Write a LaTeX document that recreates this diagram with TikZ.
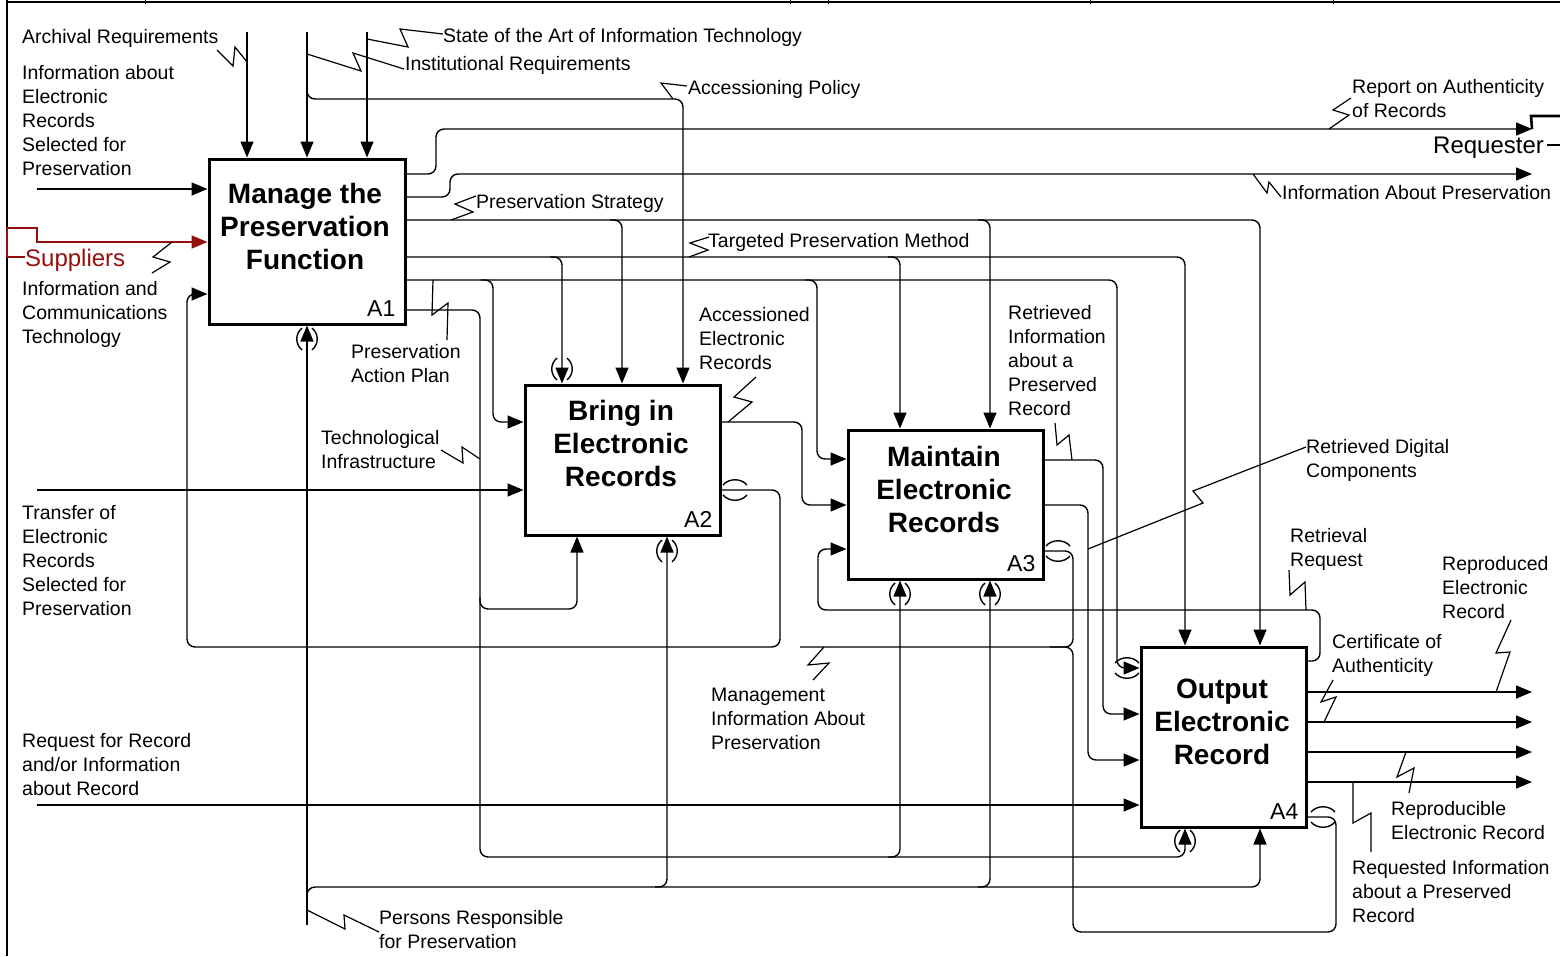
\documentclass[tikz,border=0pt]{standalone}
\usepackage{fontspec}
\setmainfont{Liberation Sans}
\usetikzlibrary{arrows.meta,calc}
\definecolor{supred}{RGB}{150,15,15}

% tunnel marks: parentheses round a vertical arrow end / arcs round a horizontal one
\newcommand{\tunV}[2]{%
  \draw[tun] (#1-5,#2-11) .. controls (#1-12,#2-5) and (#1-12,#2+5) .. (#1-5,#2+11);
  \draw[tun] (#1+5,#2-11) .. controls (#1+12,#2-5) and (#1+12,#2+5) .. (#1+5,#2+11);}
\newcommand{\tunH}[2]{%
  \draw[tun] (#1-12,#2-5) .. controls (#1-6,#2-12) and (#1+6,#2-12) .. (#1+12,#2-5);
  \draw[tun] (#1-12,#2+5) .. controls (#1-6,#2+12) and (#1+6,#2+12) .. (#1+12,#2+5);}

\begin{document}
\begin{tikzpicture}[x=1pt,y=-1pt,
  box/.style={draw,line width=3pt,inner sep=0pt},
  conn/.style={line width=1.4pt,rounded corners=8pt},
  tip/.style={-{Triangle[length=16pt,width=13pt]}},
  arr/.style={conn,tip},
  zig/.style={line width=1.2pt},
  tun/.style={line width=1.4pt},
  lbl/.style={font=\fontsize{19.5}{24}\selectfont,align=left,anchor=north west,inner sep=0pt},
  ttl/.style={font=\bfseries\fontsize{28}{33}\selectfont,align=center,anchor=north,inner sep=0pt},
  num/.style={font=\fontsize{23}{26}\selectfont,anchor=base east,inner sep=0pt},
  big/.style={font=\fontsize{24}{28}\selectfont,anchor=north west,inner sep=0pt},
]
\useasboundingbox (0,0) rectangle (1560,956);

% sheet frame
\draw[line width=1.3pt] (7,0) -- (7,956);
\draw[line width=2pt] (7,2) -- (1560,2);
\foreach \t in {145,790,828,1090,1333} \draw[line width=1pt] (\t,0) -- (\t,4);

% activity boxes
\node[box,minimum width=196pt,minimum height=165pt] (a1) at (307,241.5) {};
\node[box,minimum width=195pt,minimum height=150pt] (a2) at (622.5,460) {};
\node[box,minimum width=195pt,minimum height=149pt] (a3) at (945.5,504.5) {};
\node[box,minimum width=165pt,minimum height=180pt] (a4) at (1223.5,737) {};

\node[ttl] (t1) at (305,183) {Manage the\\Preservation\\Function};
\node[ttl] (t2) at (621,400) {Bring in\\Electronic\\Records};
\node[ttl] (t3) at (944,446) {Maintain\\Electronic\\Records};
\node[ttl] (t4) at (1222,679) {Output\\Electronic\\Record};

\node[num] (n1) at ($(a1.south east)+(-11,-9)$) {A1};
\node[num] (n2) at ($(a2.south east)+(-9,-9)$) {A2};
\node[num] (n3) at ($(a3.south east)+(-9,-9)$) {A3};
\node[num] (n4) at ($(a4.south east)+(-9,-9)$) {A4};

% free ends of boundary arrows
\coordinate (cArch) at (247,32);
\coordinate (cInst) at (307,32);
\coordinate (cArt) at (367,32);
\coordinate (iInfo) at (37,189);
\coordinate (iSup) at (25,257);
\coordinate (iTrans) at (37,490);
\coordinate (iReq) at (37,805);
\coordinate (mPers) at (307,925);
\coordinate (oRep) at (1532,129);
\coordinate (oInfo) at (1532,174);
\coordinate (oA) at (1532,692);
\coordinate (oB) at (1532,722);
\coordinate (oC) at (1532,752);
\coordinate (oD) at (1532,782);

% controls of A1
\draw[arr] (cArch) -- (cArch |- a1.north);
\draw[arr] (cInst) -- (cInst |- a1.north);
\draw[arr] (cArt) -- (cArt |- a1.north);
\draw[arr] (307,84) -- (307,99) -- (683,99) -- (683,0 |- a2.north);

% inputs
\draw[arr] (iInfo) -- (iInfo -| a1.west);
\draw[line width=1.6pt,draw=supred,tip]
  (iSup) -- (7,257) -- (7,228) -- (37,228) -- (37,242) -- (a1.west |- 0,242);
\draw[arr] (iTrans) -- (iTrans -| a2.west);
\draw[arr] (iReq) -- (iReq -| a4.west);

% mechanisms
\draw[arr] (mPers) -- (mPers |- a1.south);
\draw[arr] (307,906) -- (307,887) -- (1260,887) -- (1260,0 |- a4.south);
\draw[arr] (655,887) -- (667,887) -- (667,0 |- a2.south);
\draw[arr] (978,887) -- (990,887) -- (990,0 |- a3.south);

% outputs of A1
\draw[arr] (a1.east |- 0,174) -- (436,174) -- (436,129) -- (oRep);
\draw[arr] (a1.east |- 0,197) -- (450,197) -- (450,174) -- (oInfo);
\draw[arr] (a1.east |- 0,220) -- (1260,220) -- (1260,0 |- a4.north);
\draw[arr] (610,220) -- (622,220) -- (622,0 |- a2.north);
\draw[arr] (978,220) -- (990,220) -- (990,0 |- a3.north);
\draw[arr] (a1.east |- 0,257) -- (1185,257) -- (1185,0 |- a4.north);
\draw[arr] (550,257) -- (562,257) -- (562,0 |- a2.north);
\draw[arr] (888,257) -- (900,257) -- (900,0 |- a3.north);
\draw[arr] (a1.east |- 0,280) -- (1117,280) -- (1117,668) -- (a4.west |- 0,668);
\draw[arr] (481,280) -- (493,280) -- (493,422) -- (a2.west |- 0,422);
\draw[arr] (805,280) -- (817,280) -- (817,459) -- (a3.west |- 0,459);
\draw[arr] (a1.east |- 0,310) -- (480,310) -- (480,857) -- (1185,857) -- (1185,0 |- a4.south);
\draw[arr] (480,597) -- (480,609) -- (577,609) -- (577,0 |- a2.south);
\draw[arr] (888,857) -- (900,857) -- (900,0 |- a3.south);

% outputs of A2
\draw[arr] (a2.east |- 0,422) -- (802,422) -- (802,505) -- (a3.west |- 0,505);
\draw[arr] (a2.east |- 0,490) -- (780,490) -- (780,647) -- (187,647) -- (187,294) -- (a1.west |- 0,294);

% outputs of A3
\draw[arr] (a3.east |- 0,460) -- (1103,460) -- (1103,714) -- (a4.west |- 0,714);
\draw[arr] (a3.east |- 0,505) -- (1088,505) -- (1088,760) -- (a4.west |- 0,760);
\draw[conn] (a3.east |- 0,551) -- (1073,551) -- (1073,647) -- (800,647);

% outputs of A4
\draw[conn] (a4.east |- 0,817) -- (1336,817) -- (1336,932) -- (1073,932) -- (1073,647) -- (1050,647);
\draw[arr] (a4.east |- 0,661) -- (1320,661) -- (1320,610) -- (818,610) -- (818,549) -- (a3.west |- 0,549);
\draw[arr] (a4.east |- oA) -- (oA);
\draw[arr] (a4.east |- oB) -- (oB);
\draw[arr] (a4.east |- oC) -- (oC);
\draw[arr] (a4.east |- oD) -- (oD);

% tunnelled arrow ends
\tunV{307}{339}
\tunV{562}{369}
\tunV{667}{551}
\tunV{900}{594}
\tunV{990}{594}
\tunV{1185}{841}
\tunH{735}{490}
\tunH{1058}{551}
\tunH{1323}{817}
\tunH{1127}{668}

% requester mark
\node[big] (requester) at (1433,136.5) {Requester};
\draw[line width=2.6pt] (oRep) -- (1531,116) -- (1560,116);
\draw[line width=1.2pt] (requester.east |- 0,145) ++(3,0) -- (1560,145);

% label squiggles
\draw[zig] (217,50) -- (233,66) -- (235,47) -- (247,62);
\draw[zig] (307,54) -- (361,71) -- (353,53) -- (404,69);
\draw[zig] (367,39) -- (408,47) -- (400,29) -- (443,34);
\draw[zig] (673,99) -- (661,83) -- (687,86);
\draw[zig] (1329,129) -- (1349,115) -- (1333,110) -- (1351,98);
\draw[zig] (1253,174) -- (1267,193) -- (1269,182) -- (1281,197);
\draw[zig] (451,220) -- (473,212) -- (455,204) -- (476,196);
\draw[zig] (689,257) -- (708,250) -- (690,243) -- (709,237);
\draw[zig] (152,273) -- (170,262) -- (153,257) -- (172,242);
\draw[zig] (433,280) -- (432,315) -- (448,303) -- (447,340);
\draw[zig] (728,422) -- (752,402) -- (734,397) -- (756,377);
\draw[zig] (441,450) -- (463,463) -- (462,447) -- (480,459);
\draw[zig] (1072,460) -- (1069,435) -- (1057,445) -- (1055,423);
\draw[zig] (1088,549) -- (1203,503) -- (1193,491) -- (1306,447);
\draw[zig] (1306,610) -- (1305,582) -- (1290,595) -- (1289,570);
\draw[zig] (1496,692) -- (1510,652) -- (1496,653) -- (1511,620);
\draw[zig] (1324,722) -- (1336,697) -- (1321,702) -- (1333,680);
\draw[zig] (1406,752) -- (1397,777) -- (1414,768) -- (1409,793);
\draw[zig] (1353,782) -- (1353,823) -- (1371,813) -- (1371,852);
\draw[zig] (824,647) -- (808,665) -- (829,663) -- (813,680);
\draw[zig] (307,910) -- (345,929) -- (344,915) -- (379,932);

% arrow labels
\node[lbl] (lArch) at (22,29) {Archival Requirements};
\node[lbl] (lInfo) at (22,65) {Information about\\Electronic\\Records\\Selected for\\Preservation};
\node[lbl] (lArt) at (443,28) {State of the Art of Information Technology};
\node[lbl] (lInst) at (405,56) {Institutional Requirements};
\node[lbl] (lAcc) at (688,80) {Accessioning Policy};
\node[lbl] (lRep) at (1352,79) {Report on Authenticity\\of Records};
\node[lbl] (lIAP) at (1282,185) {Information About Preservation};
\node[lbl] (lStr) at (476,194) {Preservation Strategy};
\node[lbl] (lTPM) at (708,233) {Targeted Preservation Method};
\node[big,text=supred] (lSup) at (25,248.5) {Suppliers};
\node[lbl] (lICT) at (22,281.5) {Information and\\Communications\\Technology};
\node[lbl] (lPAP) at (351,344) {Preservation\\Action Plan};
\node[lbl] (lAER) at (699,307.5) {Accessioned\\Electronic\\Records};
\node[lbl] (lRIP) at (1008,305.5) {Retrieved\\Information\\about a\\Preserved\\Record};
\node[lbl] (lTI) at (321,430.5) {Technological\\Infrastructure};
\node[lbl] (lRDC) at (1306,439.5) {Retrieved Digital\\Components};
\node[lbl] (lTrans) at (22,505.5) {Transfer of\\Electronic\\Records\\Selected for\\Preservation};
\node[lbl] (lRR) at (1290,528) {Retrieval\\Request};
\node[lbl] (lRER) at (1442,556) {Reproduced\\Electronic\\Record};
\node[lbl] (lCert) at (1332,634.5) {Certificate of\\Authenticity};
\node[lbl] (lMgmt) at (711,688) {Management\\Information About\\Preservation};
\node[lbl] (lReq) at (22,733) {Request for Record\\and/or Information\\about Record};
\node[lbl] (lRpr) at (1391,801.5) {Reproducible\\Electronic Record};
\node[lbl] (lRqI) at (1352,860.5) {Requested Information\\about a Preserved\\Record};
\node[lbl] (lPers) at (379,910) {Persons Responsible\\for Preservation};
\end{tikzpicture}
\end{document}
